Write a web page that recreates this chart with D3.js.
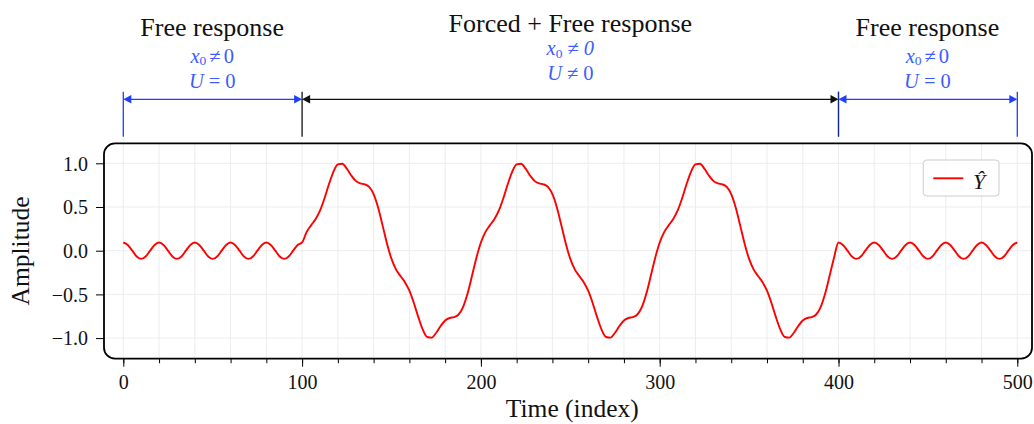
<!DOCTYPE html>
<html><head><meta charset="utf-8">
<script src="https://cdn.jsdelivr.net/npm/d3@7"></script>
<style>body{margin:0;background:#fff}svg{display:block}</style>
</head><body>
<svg id="chart" width="1034" height="424"></svg>
<script>
// ---------- data ----------
const sampleStep = 2.5;            // time-index spacing of the samples below
const segmentStartTimes = [0, 100, 400];
// free response before forcing, t = 0 .. 97.5
const freeBefore = [
  0.094, 0.066, 0, -0.066, -0.094, -0.066, 0, 0.066,
  0.094, 0.066, 0, -0.066, -0.094, -0.066, 0, 0.066,
  0.094, 0.066, 0, -0.066, -0.094, -0.066, 0, 0.066,
  0.094, 0.066, 0, -0.066, -0.094, -0.066, 0, 0.066,
  0.094, 0.066, 0, -0.066, -0.094, -0.066, 0, 0.066
];
// forced + free response, t = 100 .. 397.5
const forcedFree = [
  0.094, 0.213, 0.290, 0.360, 0.458, 0.598, 0.760, 0.903, 0.987, 0.994,
  0.939, 0.861, 0.799, 0.770, 0.760, 0.730, 0.646, 0.493, 0.290, 0.080,
  -0.094, -0.213, -0.290, -0.360, -0.458, -0.598, -0.760, -0.903, -0.987, -0.994,
  -0.939, -0.861, -0.799, -0.770, -0.760, -0.730, -0.646, -0.493, -0.290, -0.080,
  0.094, 0.213, 0.290, 0.360, 0.458, 0.598, 0.760, 0.903, 0.987, 0.994,
  0.939, 0.861, 0.799, 0.770, 0.760, 0.730, 0.646, 0.493, 0.290, 0.080,
  -0.094, -0.213, -0.290, -0.360, -0.458, -0.598, -0.760, -0.903, -0.987, -0.994,
  -0.939, -0.861, -0.799, -0.770, -0.760, -0.730, -0.646, -0.493, -0.290, -0.080,
  0.094, 0.213, 0.290, 0.360, 0.458, 0.598, 0.760, 0.903, 0.987, 0.994,
  0.939, 0.861, 0.799, 0.770, 0.760, 0.730, 0.646, 0.493, 0.290, 0.080,
  -0.094, -0.213, -0.290, -0.360, -0.458, -0.598, -0.760, -0.903, -0.987, -0.994,
  -0.939, -0.861, -0.799, -0.770, -0.760, -0.730, -0.646, -0.493, -0.290, -0.080
];
// free response after forcing, t = 400 .. 500
const freeAfter = [
  0.094, 0.066, 0, -0.066, -0.094, -0.066, 0, 0.066,
  0.094, 0.066, 0, -0.066, -0.094, -0.066, 0, 0.066,
  0.094, 0.066, 0, -0.066, -0.094, -0.066, 0, 0.066,
  0.094, 0.066, 0, -0.066, -0.094, -0.066, 0, 0.066,
  0.094, 0.066, 0, -0.066, -0.094, -0.066, 0, 0.066,
  0.094
];
const xMajorTicks = [0, 100, 200, 300, 400, 500];
const xMinorTicks = [0, 20, 40, 60, 80, 100, 120, 140, 160, 180, 200, 220, 240, 260, 280, 300, 320, 340, 360, 380, 400, 420, 440, 460, 480, 500];
const yTicks = [-1.0, -0.5, 0.0, 0.5, 1.0];
const phaseStarts = [0, 100, 400];
const phaseEnds = [100, 400, 500];
const phaseTitles = ["Free response", "Forced + Free response", "Free response"];
const phaseForced = [false, true, false];
const legendLabel = "Ŷ";
const xLabel = "Time (index)";
const yLabel = "Amplitude";

// ---------- layout ----------
const svg = d3.select("#chart");
const FONT = "'Liberation Serif', 'DejaVu Serif', serif";
const frame = {left: 104, right: 1032, top: 143.3, bottom: 358.7};
const x = d3.scaleLinear().domain([0, 500]).range([123.3, 1017.3]);
const y = d3.scaleLinear().domain([-1, 1]).range([338.1, 163.3]);
const BLUE = "#1f3fff", BLUE_TEXT = "#3d5cff";

const series = [];
[freeBefore, forcedFree, freeAfter].forEach((arr, s) => {
  arr.forEach((v, i) => series.push({t: segmentStartTimes[s] + i * sampleStep, v}));
});

// grid
const grid = svg.append("g");
grid.selectAll("line.gx").data(xMinorTicks).join("line")
  .attr("x1", d => x(d)).attr("x2", d => x(d))
  .attr("y1", frame.top).attr("y2", frame.bottom)
  .attr("stroke", "#ebebeb").attr("stroke-width", 0.9);
grid.selectAll("line.gy").data(yTicks).join("line")
  .attr("x1", frame.left).attr("x2", frame.right)
  .attr("y1", d => y(d)).attr("y2", d => y(d))
  .attr("stroke", "#ebebeb").attr("stroke-width", 0.9);

// curve
svg.append("path").datum(series)
  .attr("d", d3.line().x(d => x(d.t)).y(d => y(d.v)).curve(d3.curveMonotoneX))
  .attr("fill", "none").attr("stroke", "#ff0000").attr("stroke-width", 1.9)
  .attr("stroke-linejoin", "round");

// frame
svg.append("rect")
  .attr("x", frame.left).attr("y", frame.top)
  .attr("width", frame.right - frame.left).attr("height", frame.bottom - frame.top)
  .attr("rx", 11).attr("ry", 11)
  .attr("fill", "none").attr("stroke", "#000").attr("stroke-width", 1.8);

// x axis ticks
const xAxisMinor = d3.axisBottom(x).tickValues(xMinorTicks).tickSize(4.5).tickFormat("");
const xAxisMajor = d3.axisBottom(x).tickValues(xMajorTicks).tickSize(8).tickPadding(5)
  .tickFormat(d => String(d));
const gxMin = svg.append("g").attr("transform", `translate(0,${frame.bottom})`).call(xAxisMinor);
const gxMaj = svg.append("g").attr("transform", `translate(0,${frame.bottom})`).call(xAxisMajor);
[gxMin, gxMaj].forEach(g => {
  g.select(".domain").remove();
  g.selectAll(".tick line").attr("stroke", "#000").attr("stroke-width", 1);
});
gxMaj.selectAll(".tick text").attr("font-family", FONT).attr("font-size", 20)
  .attr("fill", "#111").attr("dy", 0).attr("y", 30.5);

// y axis
const yAxis = d3.axisLeft(y).tickValues(yTicks).tickSize(8).tickPadding(6)
  .tickFormat(d => d3.format(".1f")(d).replace("-", "\u2212"));
const gy = svg.append("g").attr("transform", `translate(${frame.left},0)`).call(yAxis);
gy.select(".domain").remove();
gy.selectAll(".tick line").attr("stroke", "#000").attr("stroke-width", 1);
gy.selectAll(".tick text").attr("font-family", FONT).attr("font-size", 20)
  .attr("fill", "#111").attr("x", -16).attr("dy", "0.34em");

// axis labels
svg.append("text").attr("x", (x(0) + x(500)) / 2 + 2).attr("y", 417)
  .attr("text-anchor", "middle").attr("font-family", FONT).attr("font-size", 25.5)
  .attr("fill", "#111").text(xLabel);
svg.append("text").attr("transform", `translate(29,${(frame.top + frame.bottom) / 2}) rotate(-90)`)
  .attr("text-anchor", "middle").attr("font-family", FONT).attr("font-size", 25.5)
  .attr("fill", "#111").text(yLabel);

// legend
const lg = svg.append("g");
lg.append("rect").attr("x", 923.3).attr("y", 160).attr("width", 75.7).attr("height", 36)
  .attr("rx", 3.5).attr("fill", "#fff").attr("fill-opacity", 0.85)
  .attr("stroke", "#cccccc").attr("stroke-width", 1);
lg.append("line").attr("x1", 933.3).attr("x2", 963.3).attr("y1", 178.3).attr("y2", 178.3)
  .attr("stroke", "#ff0000").attr("stroke-width", 1.9);
lg.append("text").attr("x", 973).attr("y", 188.5).attr("font-family", FONT)
  .attr("font-style", "italic").attr("font-size", 22).attr("fill", "#111").text(legendLabel);

// phase annotations
const ARROW_Y = 99.3, VTOP = 91.7, VBOT = 136.7;
const ann = svg.append("g");
function head(xTip, dir, color) { // dir: +1 points right, -1 points left
  ann.append("path")
    .attr("d", `M${xTip},${ARROW_Y} L${xTip - dir * 8},${ARROW_Y - 4.2} L${xTip - dir * 8},${ARROW_Y + 4.2} Z`)
    .attr("fill", color);
}
phaseStarts.forEach((s, i) => {
  const e = phaseEnds[i];
  const col = phaseForced[i] ? "#111" : BLUE;
  const x1 = x(s), x2 = x(e);
  ann.append("line").attr("x1", x1 + 6).attr("x2", x2 - 6)
    .attr("y1", ARROW_Y).attr("y2", ARROW_Y).attr("stroke", col).attr("stroke-width", 1.3);
  head(x1, -1, col);
  head(x2, 1, col);
});
// boundary lines
const boundaries = [
  {t: 0, col: BLUE, op: 1},
  {t: 100, col: "#111", op: 1},
  {t: 400, col: "#111", op: 1},
  {t: 400, col: BLUE, op: 0.55},
  {t: 500, col: BLUE, op: 1}
];
ann.selectAll("line.b").data(boundaries).join("line")
  .attr("x1", d => x(d.t)).attr("x2", d => x(d.t))
  .attr("y1", VTOP).attr("y2", VBOT)
  .attr("stroke", d => d.col).attr("stroke-opacity", d => d.op).attr("stroke-width", 1.3);

// titles and conditions
phaseStarts.forEach((s, i) => {
  const cx = (x(s) + x(phaseEnds[i])) / 2 + (phaseForced[i] ? 0 : -0.5);
  const forced = phaseForced[i];
  ann.append("text").attr("x", cx).attr("y", forced ? 32.3 : 36)
    .attr("text-anchor", "middle").attr("font-family", FONT).attr("font-size", 26)
    .attr("fill", "#111").text(phaseTitles[i]);
  // line 1: x0 ≠ 0
  const t1 = ann.append("text").attr("x", cx).attr("y", forced ? 55 : 62.5)
    .attr("text-anchor", "middle").attr("font-family", FONT).attr("font-size", 20.5)
    .attr("fill", BLUE_TEXT);
  t1.append("tspan").attr("font-style", "italic").text("x");
  t1.append("tspan").attr("font-size", 13.5).attr("dy", 2.5).text("0");
  t1.append("tspan").attr("dy", -2.5).attr("dx", forced ? 5 : 3).text("\u2260");
  t1.append("tspan").attr("dx", forced ? 5 : 3).attr("font-style", forced ? "italic" : "normal").text("0");
  // line 2: U = 0 / U ≠ 0
  const t2 = ann.append("text").attr("x", cx).attr("y", forced ? 79.5 : 88)
    .attr("text-anchor", "middle").attr("font-family", FONT).attr("font-size", 20.5)
    .attr("fill", BLUE_TEXT);
  t2.append("tspan").attr("font-style", "italic").text("U");
  t2.append("tspan").attr("dx", 5).text(forced ? "\u2260" : "=");
  t2.append("tspan").attr("dx", 5).text("0");
});
</script>
</body></html>
